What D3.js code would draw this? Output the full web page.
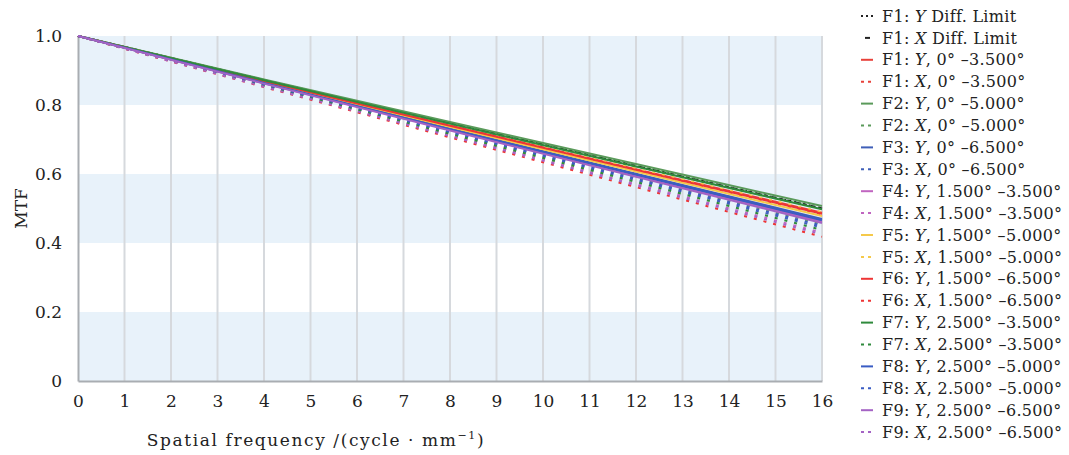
<!DOCTYPE html>
<html>
<head>
<meta charset="utf-8">
<script src="https://cdn.jsdelivr.net/npm/d3@7"></script>
<style>
  body { margin: 0; background: #fff; }
  svg text { font-family: "DejaVu Serif", "Liberation Serif", serif; fill: #222; }
</style>
</head>
<body>
<div id="viz"></div>
<script>
// spatial frequency samples (cycle/mm)
const freqs = [0, 4, 8, 12, 16]

const seriesNames = [
    "F1: |Y| Diff. Limit", "F1: |X| Diff. Limit",
    "F1: |Y|, 0° –3.500°", "F1: |X|, 0° –3.500°",
    "F2: |Y|, 0° –5.000°", "F2: |X|, 0° –5.000°",
    "F3: |Y|, 0° –6.500°", "F3: |X|, 0° –6.500°",
    "F4: |Y|, 1.500° –3.500°", "F4: |X|, 1.500° –3.500°",
    "F5: |Y|, 1.500° –5.000°", "F5: |X|, 1.500° –5.000°",
    "F6: |Y|, 1.500° –6.500°", "F6: |X|, 1.500° –6.500°",
    "F7: |Y|, 2.500° –3.500°", "F7: |X|, 2.500° –3.500°",
    "F8: |Y|, 2.500° –5.000°", "F8: |X|, 2.500° –5.000°",
    "F9: |Y|, 2.500° –6.500°", "F9: |X|, 2.500° –6.500°"
]

const seriesValues = [
    [1, 0.872, 0.747, 0.623, 0.500],
    [1, 0.872, 0.747, 0.623, 0.500],
    [1, 0.869, 0.741, 0.614, 0.488],
    [1, 0.868, 0.738, 0.610, 0.482],
    [1, 0.874, 0.751, 0.629, 0.507],
    [1, 0.861, 0.725, 0.590, 0.455],
    [1, 0.865, 0.732, 0.601, 0.470],
    [1, 0.858, 0.720, 0.582, 0.445],
    [1, 0.863, 0.728, 0.595, 0.462],
    [1, 0.855, 0.712, 0.571, 0.430],
    [1, 0.867, 0.736, 0.607, 0.478],
    [1, 0.870, 0.742, 0.616, 0.490],
    [1, 0.869, 0.740, 0.612, 0.485],
    [1, 0.852, 0.706, 0.562, 0.418],
    [1, 0.872, 0.746, 0.622, 0.498],
    [1, 0.857, 0.716, 0.577, 0.438],
    [1, 0.864, 0.730, 0.598, 0.466],
    [1, 0.860, 0.722, 0.586, 0.450],
    [1, 0.862, 0.726, 0.592, 0.458],
    [1, 0.853, 0.710, 0.567, 0.425]
]

const seriesColors = [
    "#222222", "#222222",
    "#e8413a", "#e8413a",
    "#5a9a5a", "#5a9a5a",
    "#3f5fb8", "#3f5fb8",
    "#c065c0", "#c065c0",
    "#f5c94a", "#f5c94a",
    "#ee3535", "#ee3535",
    "#2f8a3c", "#2f8a3c",
    "#3a5cc4", "#3a5cc4",
    "#a463c4", "#a463c4"
]

const xTicks = d3.range(0, 17)
const yTicks = [0, 0.2, 0.4, 0.6, 0.8, 1.0]

const W = 1069, H = 455
const margin = { left: 78, right: 247, top: 36, bottom: 74 }
const innerW = W - margin.left - margin.right
const innerH = H - margin.top - margin.bottom

const svg = d3.select("#viz").append("svg").attr("width", W).attr("height", H)
const g = svg.append("g").attr("transform", `translate(${margin.left},${margin.top})`)

const x = d3.scaleLinear().domain([0, 16]).range([0, innerW])
const y = d3.scaleLinear().domain([0, 1]).range([innerH, 0])

// alternating bands
g.selectAll("rect.band")
    .data([[0, 0.2], [0.4, 0.6], [0.8, 1.0]])
    .join("rect")
    .attr("class", "band")
    .attr("x", 0)
    .attr("width", innerW)
    .attr("y", d => y(d[1]))
    .attr("height", d => y(d[0]) - y(d[1]))
    .attr("fill", "#e8f2fa")

// vertical grid
g.selectAll("line.vgrid")
    .data(xTicks.slice(1))
    .join("line")
    .attr("class", "vgrid")
    .attr("x1", d => x(d)).attr("x2", d => x(d))
    .attr("y1", 0).attr("y2", innerH)
    .attr("stroke", "#d6d9dd")
    .attr("stroke-width", 2)

// axes
const xAxis = g.append("g")
    .attr("transform", `translate(0,${innerH})`)
    .call(d3.axisBottom(x).tickValues(xTicks).tickSize(0).tickPadding(14).tickFormat(d3.format("d")))
xAxis.select(".domain").attr("stroke", "#a9adb2").attr("stroke-width", 2)
xAxis.selectAll("text").attr("font-size", 17).attr("fill", "#222")

const yAxis = g.append("g")
    .call(d3.axisLeft(y).tickValues(yTicks).tickSize(0).tickPadding(16)
        .tickFormat(d => d === 0 ? "0" : d3.format(".1f")(d)))
yAxis.select(".domain").attr("stroke", "#a9adb2").attr("stroke-width", 2)
yAxis.selectAll("text").attr("font-size", 17).attr("fill", "#222")

// lines
const dashFor = i => i === 0 ? "2,3" : i === 1 ? "4,4" : (i % 2 === 1 ? "3,7" : null)
const line = d3.line().x((d, j) => x(freqs[j])).y(d => y(d))

g.selectAll("path.series")
    .data(seriesValues)
    .join("path")
    .attr("class", "series")
    .attr("d", d => line(d))
    .attr("fill", "none")
    .attr("stroke", (d, i) => seriesColors[i])
    .attr("stroke-width", (d, i) => i < 2 ? 2.2 : 2)
    .attr("stroke-dasharray", (d, i) => dashFor(i))

// axis titles
svg.append("text")
    .attr("x", 316).attr("y", 446)
    .attr("text-anchor", "middle")
    .attr("font-size", 17)
    .attr("letter-spacing", 1.6)
    .html("Spatial frequency /(cycle · mm<tspan dy='-7' font-size='11'>−1</tspan><tspan dy='7'>)</tspan>")

svg.append("text")
    .attr("transform", `translate(27,${margin.top + innerH / 2}) rotate(-90)`)
    .attr("text-anchor", "middle")
    .attr("font-size", 17)
    .text("MTF")

// legend
const legend = svg.append("g")
const rowY = i => 16 + i * 21.9
seriesNames.forEach((name, i) => {
    legend.append("line")
        .attr("x1", i === 1 ? 865 : 861).attr("x2", i === 1 ? 870 : 873)
        .attr("y1", rowY(i)).attr("y2", rowY(i))
        .attr("stroke", seriesColors[i])
        .attr("stroke-width", 2)
        .attr("stroke-dasharray", i === 0 ? "2,3" : i === 1 ? null : (i % 2 === 1 ? "3,4" : null))
    const parts = name.split("|")
    const t = legend.append("text")
        .attr("x", 882).attr("y", rowY(i))
        .attr("dy", "0.35em")
        .attr("font-size", 16)
        .attr("letter-spacing", 0.3)
    t.append("tspan").text(parts[0])
    t.append("tspan").attr("font-style", "italic").text(parts[1])
    t.append("tspan").text(parts[2])
})
</script>
</body>
</html>
